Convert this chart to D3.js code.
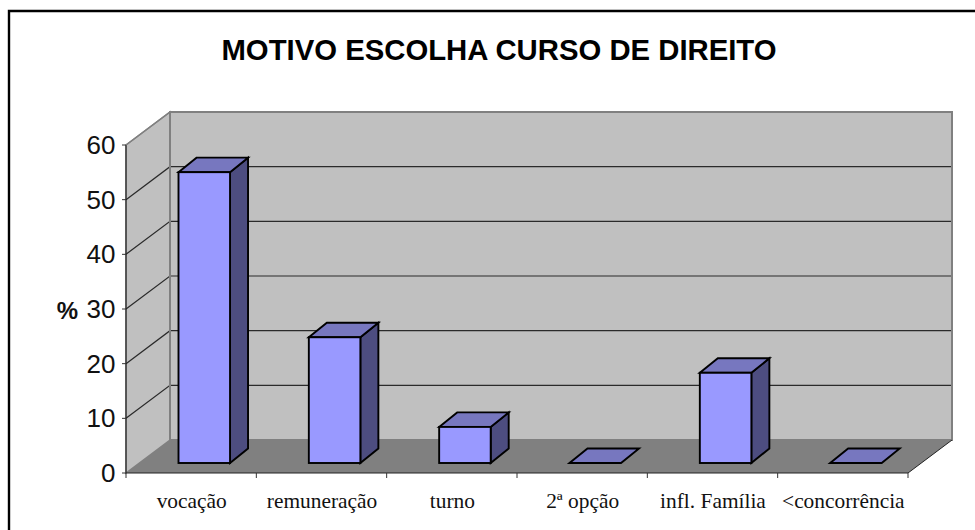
<!DOCTYPE html>
<html><head><meta charset="utf-8">
<script src="https://cdn.jsdelivr.net/npm/d3@7/dist/d3.min.js"></script>
<style>html,body{margin:0;padding:0;background:#fff}svg{display:block}</style>
</head><body><svg id="c" width="975" height="530"></svg>
<script>
const categories = ["vocação","remuneração","turno","2ª opção","infl. Família","<concorrência"];
const values = [53.2, 23, 6.6, 0, 16.5, 0];
const yTicks = [0,10,20,30,40,50,60];
const titleText = "MOTIVO ESCOLHA CURSO DE DIREITO";

const svg = d3.select("#c");
const x0 = 126, x1 = 908, yB = 473, yT = 145;
const depthX = 44, depthY = 33;
const x = d3.scaleBand().domain(categories).range([x0,x1]).paddingInner(0.6).paddingOuter(0.3);
const step = (x1-x0)/categories.length;
const y = d3.scaleLinear().domain([0,60]).range([yB,yT]);
const barDX = 13.4, barDY = 10, sideX = 18, sideY = 14.5;
const pts = a => a.map(p=>p.join(",")).join(" ");

// frame
svg.append("path").attr("d","M9,530V11H975").attr("fill","none").attr("stroke","#000").attr("stroke-width",2.4);

svg.append("text").attr("x",499).attr("y",59.5).attr("text-anchor","middle")
  .attr("font-family","'Liberation Sans'").attr("font-weight","bold").attr("font-size",29.3).attr("fill","#000").text(titleText);

// walls
const wall = svg.append("g");
wall.append("polygon").attr("fill","#c0c0c0").attr("stroke","#808080").attr("stroke-width",2)
  .attr("points",pts([[x0+depthX,yT-depthY],[x1+depthX,yT-depthY],[x1+depthX,yB-depthY],[x0+depthX,yB-depthY]]));
wall.append("polygon").attr("fill","#c0c0c0").attr("stroke","#808080").attr("stroke-width",1.5)
  .attr("points",pts([[x0,yT],[x0+depthX,yT-depthY],[x0+depthX,yB-depthY],[x0,yB]]));
wall.append("polygon").attr("fill","#808080")
  .attr("points",pts([[x0,yB],[x0+depthX,yB-depthY],[x1+depthX,yB-depthY],[x1,yB]]));

// gridlines
yTicks.filter(t=>t>0&&t<60).forEach(t=>{
  wall.append("path").attr("fill","none").attr("stroke","#2a2a2a").attr("stroke-width",1.2)
    .attr("d",`M${x0},${y(t)}L${x0+depthX},${y(t)-depthY}H${x1+depthX}`);
});
// wall re-edge
wall.append("path").attr("d",`M${x0+depthX},${yT-depthY}V${yB-depthY}`).attr("stroke","#808080").attr("stroke-width",2);
wall.append("path").attr("d",`M${x1+depthX},${yT-depthY}V${yB-depthY}`).attr("stroke","#808080").attr("stroke-width",2);

// axes
const ax = svg.append("g");
ax.append("path").attr("d",`M${x0},${yT}V${yB}H${x1}`).attr("fill","none").attr("stroke","#222").attr("stroke-width",1.1);
ax.append("path").attr("d",`M${x0},${yT}L${x0+depthX},${yT-depthY}`).attr("stroke","#808080").attr("stroke-width",1.5);
ax.append("path").attr("d",`M${x1},${yB}L${x1+depthX},${yB-depthY}`).attr("stroke","#222").attr("stroke-width",1);
yTicks.forEach(t=>{
  ax.append("line").attr("x1",x0-4).attr("x2",x0).attr("y1",y(t)).attr("y2",y(t)).attr("stroke","#333");
  ax.append("text").attr("x",115.5).attr("y",y(t)+9).attr("text-anchor","end")
    .attr("font-family","'Liberation Sans'").attr("font-size",26).attr("fill","#111").text(t);
});
d3.range(categories.length+1).forEach(i=>{
  ax.append("line").attr("x1",x0+i*step).attr("x2",x0+i*step).attr("y1",yB).attr("y2",yB+5).attr("stroke","#333");
});
categories.forEach((c,i)=>{
  ax.append("text").attr("x",x0+(i+.5)*step+0.5).attr("y",507.5).attr("text-anchor","middle")
    .attr("font-family","'Liberation Serif'").attr("font-size",21.4).attr("fill","#111").text(c);
});
svg.append("text").attr("x",67.5).attr("y",319).attr("text-anchor","middle")
  .attr("font-family","'Liberation Sans'").attr("font-weight","bold").attr("font-size",24).attr("fill","#111").text("%");

// bars
const bars = svg.append("g").attr("stroke","#000").attr("stroke-width",1.9).attr("stroke-linejoin","miter");
categories.forEach((c,i)=>{
  const bl = x(c)+barDX, w = x.bandwidth()-0.6, bot = yB-barDY, top = bot-(yB-y(values[i]));
  const br = bl+w;
  if(values[i]>0){
    bars.append("polygon").attr("fill","#4d4d80").attr("points",pts([[br,top],[br+sideX,top-sideY],[br+sideX,bot-sideY],[br,bot]]));
  }
  bars.append("polygon").attr("fill","#7777bf").attr("points",pts([[bl,top],[bl+sideX,top-sideY],[br+sideX,top-sideY],[br,top]]));
  if(values[i]>0){
    bars.append("rect").attr("x",bl).attr("y",top).attr("width",w).attr("height",bot-top).attr("fill","#9999ff");
  }
});
</script></body></html>
